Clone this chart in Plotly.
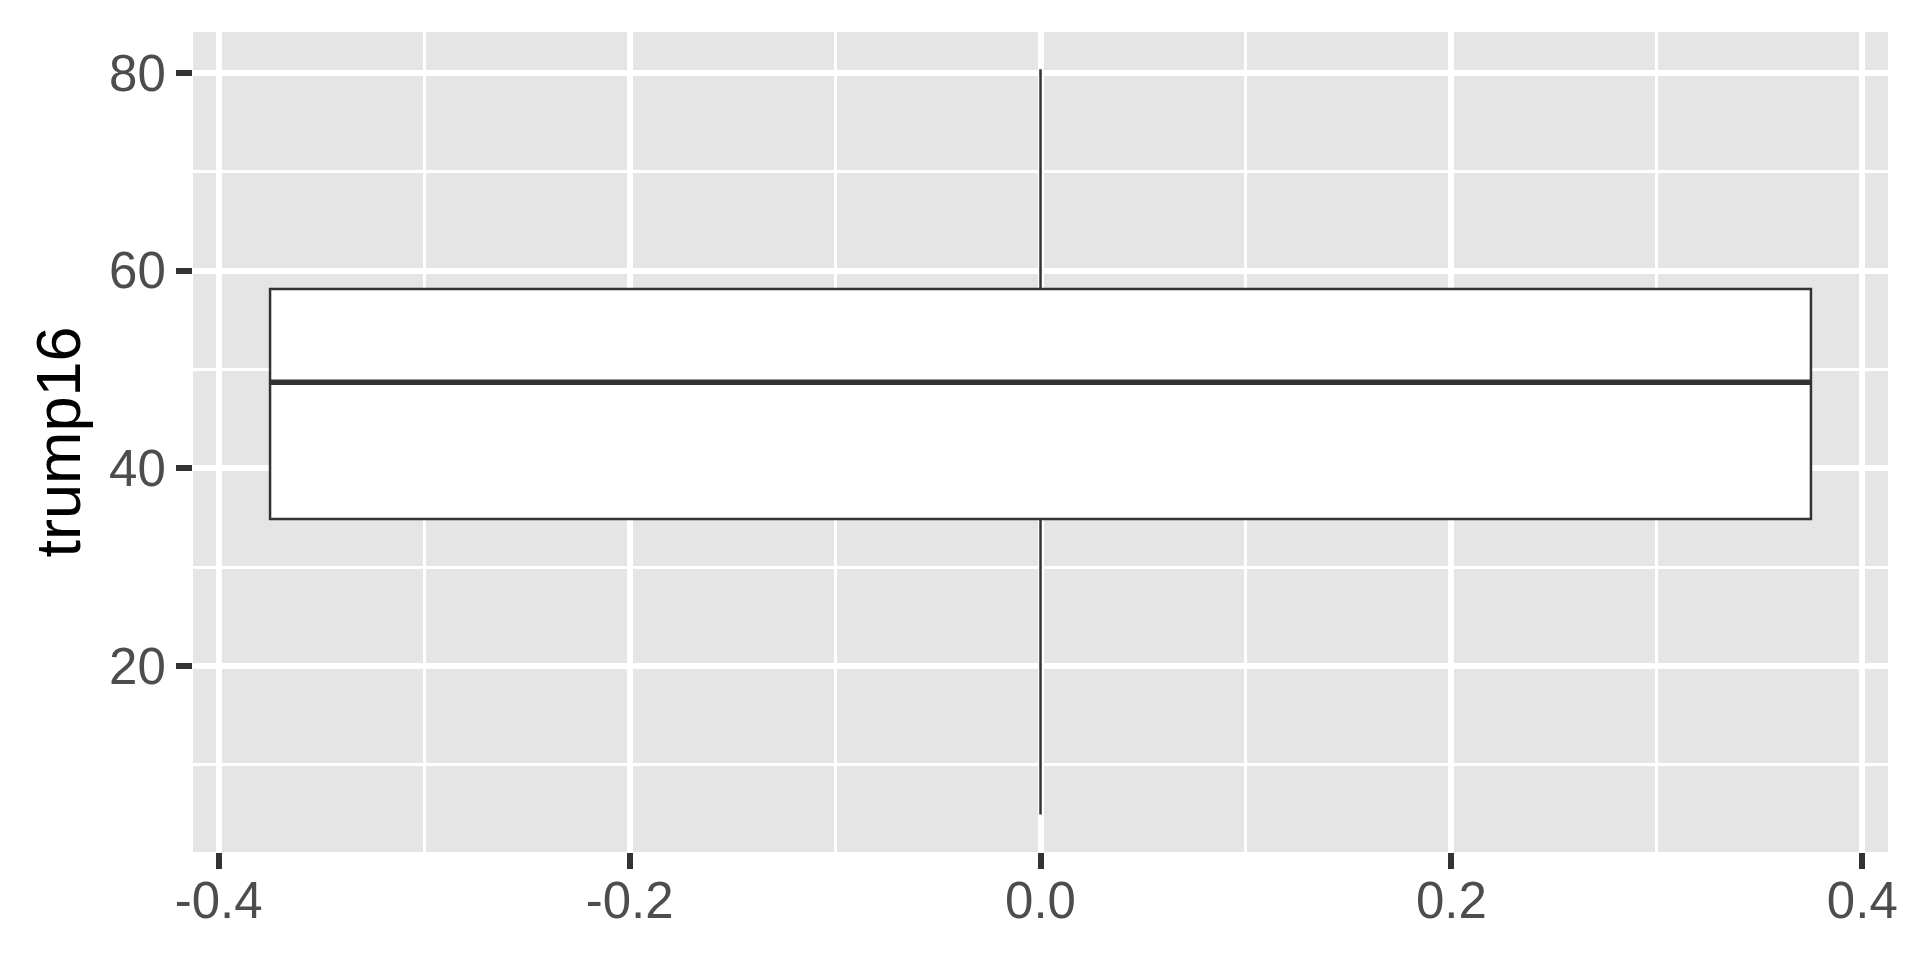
import plotly.graph_objects as go

# ---- data ----
group_pos = [0.0]
q1_vals = [34.88]
median_vals = [48.71]
q3_vals = [58.12]
lower_vals = [4.98]
upper_vals = [80.35]

x_ticks = [-0.4, -0.2, 0.0, 0.2, 0.4]
x_tick_labels = ["-0.4", "-0.2", "0.0", "0.2", "0.4"]
y_ticks = [20, 40, 60, 80]
y_tick_labels = ["20", "40", "60", "80"]
y_title = "trump16"

BOX_W = 0.75
FONT = "Liberation Sans, Arial, Helvetica, sans-serif"

fig = go.Figure()
fig.add_trace(go.Box(
    x=group_pos, q1=q1_vals, median=median_vals, q3=q3_vals,
    lowerfence=lower_vals, upperfence=upper_vals,
    width=BOX_W, whiskerwidth=0, boxpoints=False,
    fillcolor="white", line=dict(color="#333333", width=2.5),
    hoverinfo="skip", showlegend=False,
))
# thicker median line (ggplot fatten)
for xp, md in zip(group_pos, median_vals):
    fig.add_trace(go.Scatter(
        x=[xp - BOX_W / 2, xp + BOX_W / 2], y=[md, md], mode="lines",
        line=dict(color="#333333", width=5.5), hoverinfo="skip", showlegend=False,
    ))

fig.update_layout(
    width=1920, height=960,
    margin=dict(l=185, r=40, t=24, b=116, autoexpand=False),
    paper_bgcolor="white", plot_bgcolor="#E5E5E5",
    font=dict(family=FONT),
    xaxis=dict(
        range=[-0.4125, 0.4125], tickmode="array", tickvals=x_ticks, ticktext=x_tick_labels,
        showgrid=True, gridcolor="white", gridwidth=6, zeroline=False, showline=False,
        ticks="outside", ticklen=16, tickwidth=6, tickcolor="#333333", automargin=False,
        ticklabelstandoff=-12,
        tickfont=dict(size=51, color="#4D4D4D", family=FONT),
        minor=dict(tickmode="array", tickvals=[-0.3, -0.1, 0.1, 0.3], showgrid=True,
                   gridcolor="white", gridwidth=3, ticks=""),
    ),
    yaxis=dict(
        range=[1.19, 84.12], tickmode="array", tickvals=y_ticks, ticktext=y_tick_labels,
        showgrid=True, gridcolor="white", gridwidth=6, zeroline=False, showline=False,
        ticks="outside", ticklen=16, tickwidth=6, tickcolor="#333333", automargin=False,
        tickfont=dict(size=51, color="#4D4D4D", family=FONT),
        title=dict(text=y_title, font=dict(size=63, color="black", family=FONT), standoff=8),
        minor=dict(tickmode="array", tickvals=[10, 30, 50, 70], showgrid=True,
                   gridcolor="white", gridwidth=3, ticks=""),
    ),
)

fig.write_html("out.html")
